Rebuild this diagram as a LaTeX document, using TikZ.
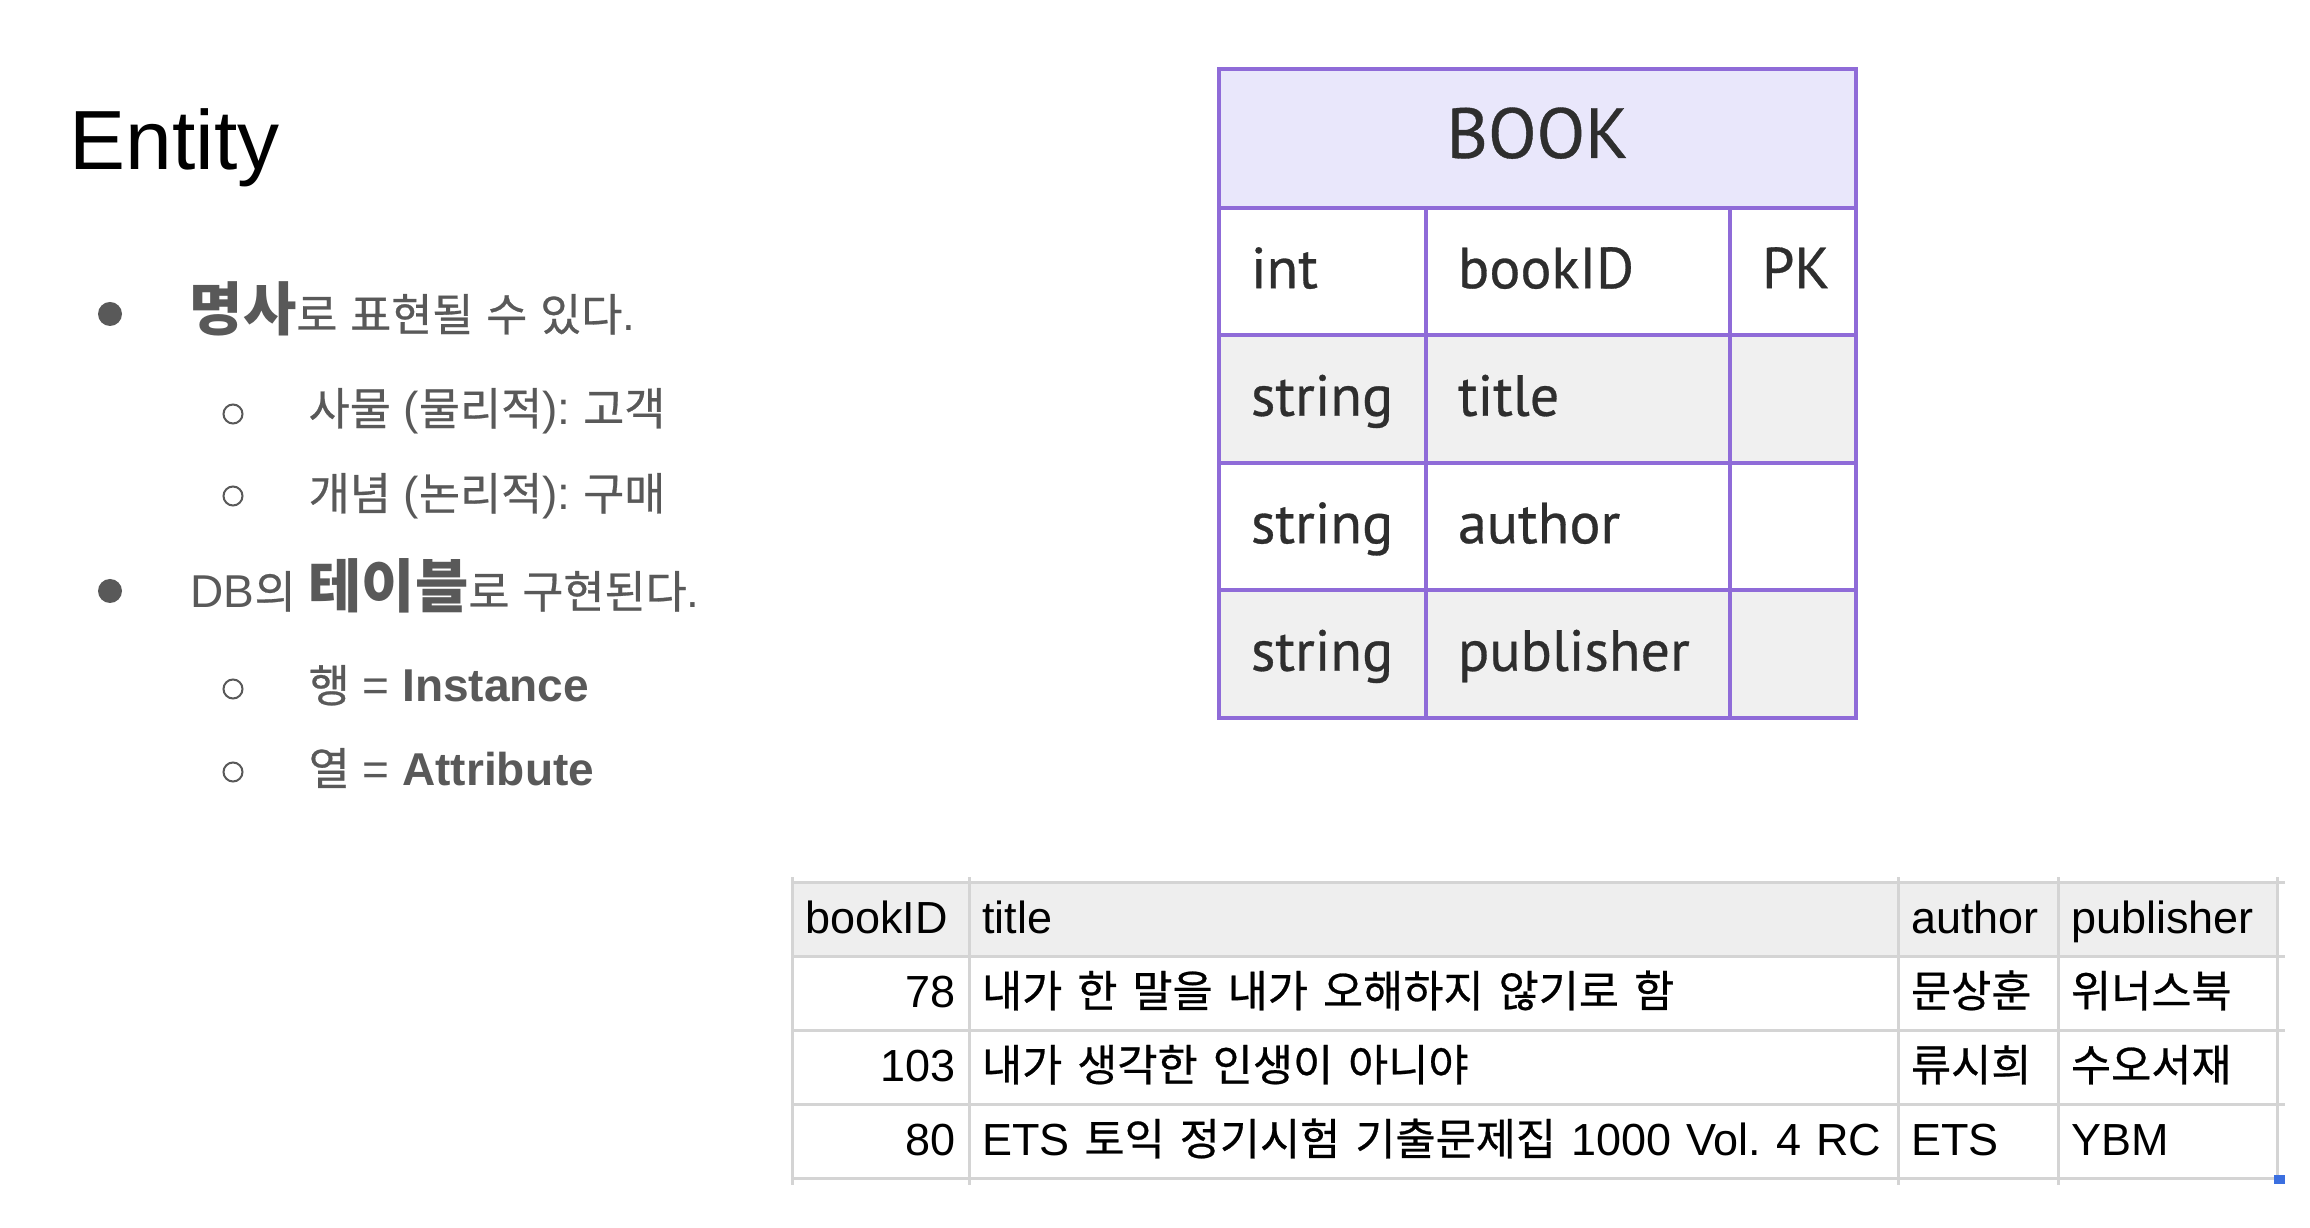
\documentclass[tikz,border=0pt]{standalone}
\usepackage{fontspec}
\setmainfont{Liberation Sans}
\newfontfamily\kr[Scale=0.97, RawFeature={embolden=0.6}]{Noto Sans CJK KR}
\newfontfamily\krbf[Scale=0.97]{Noto Sans CJK KR}
\newfontfamily\erfont[RawFeature={embolden=0.5}]{PT Sans}
\usepackage{xcolor}
\usepackage{tikz}
\usetikzlibrary{positioning, calc}

\definecolor{textgray}{HTML}{595959}
\definecolor{erpurple}{HTML}{8F6BD8}
\definecolor{erhead}{HTML}{E9E7FB}
\definecolor{errow}{HTML}{F0F0F0}
\definecolor{erink}{HTML}{2E2E2E}
\definecolor{gridgray}{HTML}{D4D4D4}
\definecolor{sheethead}{HTML}{EEEEEE}
\definecolor{handleblue}{HTML}{3B6FE0}

\newcommand{\ko}[1]{{\kr #1}}
\newcommand{\krbold}[1]{{\krbf\bfseries\fontsize{17pt}{20pt}\selectfont #1}}
\frenchspacing

\begin{document}
\begin{tikzpicture}[
    % Styles for the slide text
    title_text/.style={font=\fontsize{23.9pt}{28pt}\selectfont, text=black, inner sep=0pt, anchor=base west},
    body_text/.style={font=\fontsize{13.1pt}{15pt}\selectfont, text=textgray, inner sep=0pt, anchor=base west},
    dot_node/.style={circle, fill=textgray, minimum size=0.24cm, inner sep=0pt},
    ring_node/.style={circle, draw=textgray, line width=0.02cm, minimum size=0.19cm, inner sep=0pt},
    % Styles for the entity box
    er_cell/.style={rectangle, draw=erpurple, line width=0.04cm, outer sep=0pt, inner xsep=0.32cm, inner ysep=0pt,
        minimum height=1.275cm, align=left, font=\erfont\fontsize{16.5pt}{20pt}\selectfont, text=erink,
        text height=0.41cm, text depth=0.08cm},
    er_head/.style={er_cell, fill=erhead, text width=5.73cm, align=center, minimum height=1.39cm,
        font=\erfont\fontsize{20.2pt}{24pt}\selectfont, text height=0.50cm, text depth=0.11cm},
    er_type/.style={er_cell, text width=1.43cm},
    er_name/.style={er_cell, text width=2.40cm},
    er_key/.style={er_cell, text width=0.62cm},
    % Styles for the sheet
    sheet_cell/.style={rectangle, draw=gridgray, line width=0.03cm, outer sep=0pt, inner xsep=0.13cm, inner ysep=0pt,
        minimum height=0.74cm, align=left, font=\fontsize{12.8pt}{15pt}\selectfont, text=black,
        text height=0.32cm, text depth=0.04cm},
    sheet_head/.style={fill=sheethead},
    id_col/.style={sheet_cell, text width=1.51cm, align=right},
    title_col/.style={sheet_cell, text width=9.03cm},
    author_col/.style={sheet_cell, text width=1.34cm},
    pub_col/.style={sheet_cell, text width=1.93cm},
    grid_line/.style={draw=gridgray, line width=0.03cm}
]
    \useasboundingbox[fill=white] (0,0) rectangle (23.10,-12.28);

    % =========================================================================
    % LEFT - TITLE AND BULLETS
    % =========================================================================
    \node (title) [title_text] at (0.69,-1.70) {Entity};

    \node (dot_a) [dot_node] at (1.10,-3.14) {};
    \node (line_a) [body_text] at (1.89,-3.31) {\krbold{명사}\ko{로} \ko{표현될} \ko{수} \ko{있다}.};

    \node (ring_a) [ring_node] at (2.33,-4.14) {};
    \node (line_b) [body_text] at (3.08,-4.25) {\ko{사물} (\ko{물리적}): \ko{고객}};

    \node (ring_b) [ring_node] at (2.33,-4.96) {};
    \node (line_c) [body_text] at (3.08,-5.10) {\ko{개념} (\ko{논리적}): \ko{구매}};

    \node (dot_b) [dot_node] at (1.10,-5.91) {};
    \node (line_d) [body_text] at (1.90,-6.08) {DB\ko{의} \krbold{테이블}\ko{로} \ko{구현된다}.};

    \node (ring_c) [ring_node] at (2.33,-6.89) {};
    \node (line_e) [body_text] at (3.08,-7.02) {\ko{행} = \textbf{Instance}};

    \node (ring_d) [ring_node] at (2.33,-7.72) {};
    \node (line_f) [body_text] at (3.08,-7.85) {\ko{열} = \textbf{Attribute}};

    % =========================================================================
    % RIGHT - BOOK ENTITY
    % =========================================================================
    \node (book_head) [er_head, anchor=north west] at (12.19,-0.69) {BOOK};

    \node (type_id) [er_type, fill=white, below right=0cm of book_head.south west] {int};
    \node (name_id) [er_name, fill=white, right=0cm of type_id] {bookID};
    \node (key_id) [er_key, fill=white, right=0cm of name_id] {PK};

    \node (type_title) [er_type, fill=errow, below=0cm of type_id] {string};
    \node (name_title) [er_name, fill=errow, right=0cm of type_title] {title};
    \node (key_title) [er_key, fill=errow, right=0cm of name_title] {};

    \node (type_author) [er_type, fill=white, below=0cm of type_title] {string};
    \node (name_author) [er_name, fill=white, right=0cm of type_author] {author};
    \node (key_author) [er_key, fill=white, right=0cm of name_author] {};

    \node (type_pub) [er_type, fill=errow, below=0cm of type_author] {string};
    \node (name_pub) [er_name, fill=errow, right=0cm of type_pub] {publisher};
    \node (key_pub) [er_key, fill=errow, right=0cm of name_pub] {};

    % =========================================================================
    % BOTTOM - SHEET WITH THE ROWS
    % =========================================================================
    \node (id_head) [id_col, sheet_head, align=left, anchor=north west] at (7.92,-8.82) {bookID};
    \node (title_head) [title_col, sheet_head, right=0cm of id_head] {title};
    \node (author_head) [author_col, sheet_head, right=0cm of title_head] {author};
    \node (pub_head) [pub_col, sheet_head, right=0cm of author_head] {publisher};

    \node (id_r1) [id_col, below=0cm of id_head] {78};
    \node (title_r1) [title_col, right=0cm of id_r1] {\ko{내가} \ko{한} \ko{말을} \ko{내가} \ko{오해하지} \ko{않기로} \ko{함}};
    \node (author_r1) [author_col, right=0cm of title_r1] {\ko{문상훈}};
    \node (pub_r1) [pub_col, right=0cm of author_r1] {\ko{위너스북}};

    \node (id_r2) [id_col, below=0cm of id_r1] {103};
    \node (title_r2) [title_col, right=0cm of id_r2] {\ko{내가} \ko{생각한} \ko{인생이} \ko{아니야}};
    \node (author_r2) [author_col, right=0cm of title_r2] {\ko{류시희}};
    \node (pub_r2) [pub_col, right=0cm of author_r2] {\ko{수오서재}};

    \node (id_r3) [id_col, below=0cm of id_r2] {80};
    \node (title_r3) [title_col, right=0cm of id_r3] {ETS \ko{토익} \ko{정기시험} \ko{기출문제집} 1000 Vol. 4 RC};
    \node (author_r3) [author_col, right=0cm of title_r3] {ETS};
    \node (pub_r3) [pub_col, right=0cm of author_r3] {YBM};

    % Grid stubs past the sheet edges
    \draw [grid_line] (id_head.north west) -- ++(0,0.05) (title_head.north west) -- ++(0,0.05)
        (author_head.north west) -- ++(0,0.05) (pub_head.north west) -- ++(0,0.05) (pub_head.north east) -- ++(0,0.05);
    \draw [grid_line] (id_r3.south west) -- ++(0,-0.07) (title_r3.south west) -- ++(0,-0.07)
        (author_r3.south west) -- ++(0,-0.07) (pub_r3.south west) -- ++(0,-0.07);
    \draw [grid_line] (pub_head.north east) -- ++(0.08,0) (pub_head.south east) -- ++(0.08,0)
        (pub_r1.south east) -- ++(0.08,0) (pub_r2.south east) -- ++(0.08,0);

    % Selection handle
    \fill [handleblue] ($(pub_r3.south east)+(-0.03,0.03)$) rectangle ++(0.11,-0.09);

\end{tikzpicture}
\end{document}
